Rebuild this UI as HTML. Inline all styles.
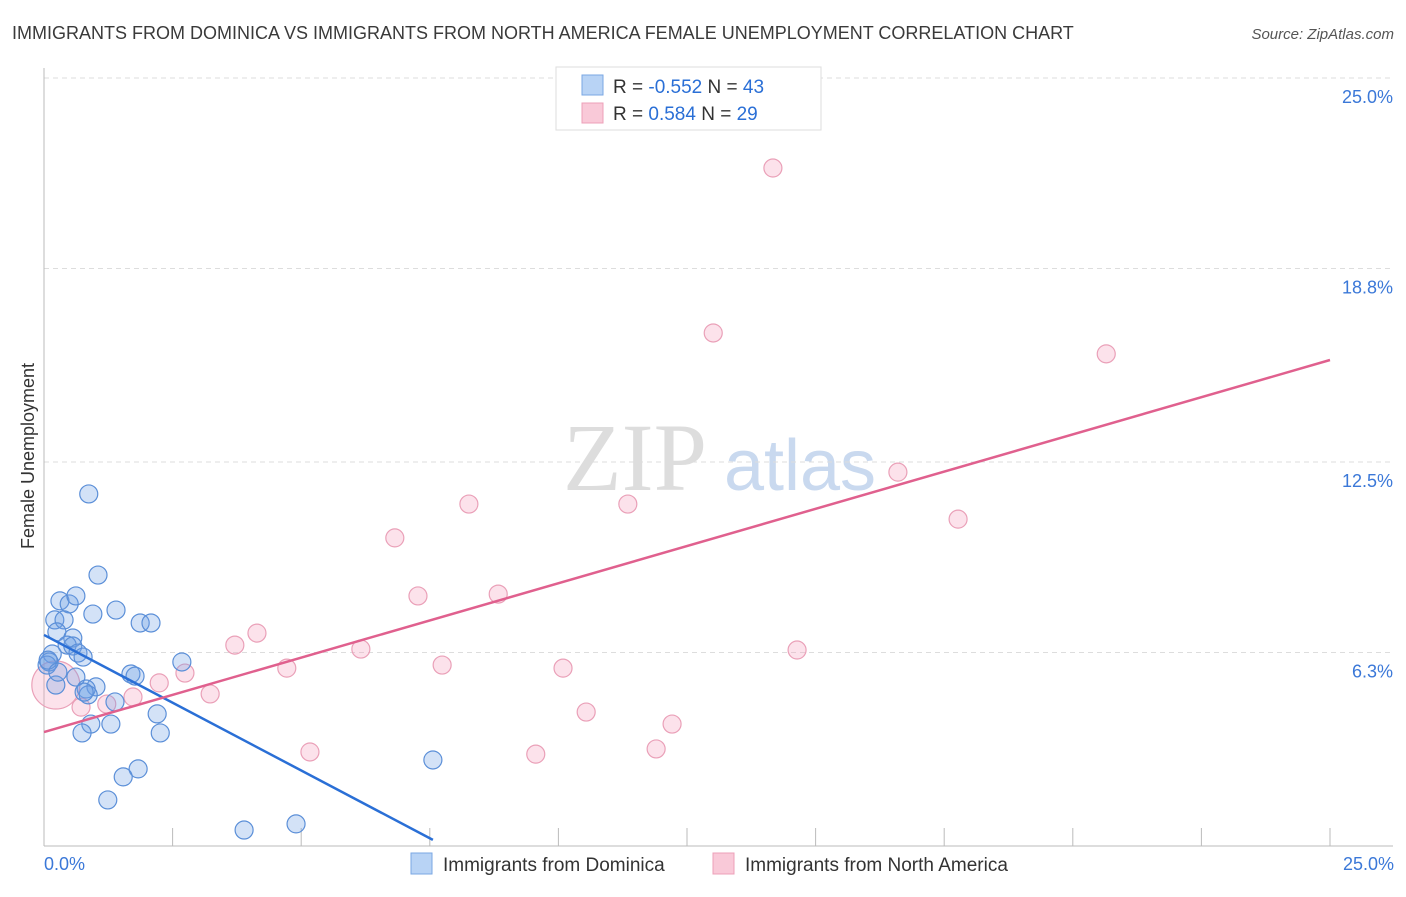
<!DOCTYPE html>
<html><head><meta charset="utf-8"><style>
body{margin:0;background:#fff;font-family:"Liberation Sans",sans-serif;}
</style></head><body>
<svg width="1406" height="892" xmlns="http://www.w3.org/2000/svg">
<text x="12" y="39" font-size="18" fill="#3a3a3a">IMMIGRANTS FROM DOMINICA VS IMMIGRANTS FROM NORTH AMERICA FEMALE UNEMPLOYMENT CORRELATION CHART</text>
<text x="1394" y="39" font-size="15" fill="#555" font-style="italic" text-anchor="end">Source: ZipAtlas.com</text>
<text x="635" y="490" font-size="96" fill="#ddd" font-family="Liberation Serif,serif" text-anchor="middle">ZIP</text>
<text x="800" y="490" font-size="72" fill="#c9d9ef" text-anchor="middle">atlas</text>
<g id="grid"></g>
<g id="marks"></g>
<text transform="translate(34,456) rotate(-90)" font-size="18" fill="#333" text-anchor="middle">Female Unemployment</text>
<text x="44" y="870" font-size="18" fill="#3b78d8">0.0%</text>
<text x="1394" y="870" font-size="18" fill="#3b78d8" text-anchor="end">25.0%</text>
<g>
<rect x="556" y="67" width="265" height="63" fill="#fff" stroke="#ddd"/>
<rect x="582" y="75" width="21" height="20" fill="#b8d3f5" stroke="#7aa7e3"/>
<rect x="582" y="103" width="21" height="20" fill="#f9c9d8" stroke="#eda0b8"/>
<text x="613" y="93" font-size="19" fill="#333">R = <tspan fill="#2a6fd6">-0.552</tspan>   N = <tspan fill="#2a6fd6">43</tspan></text>
<text x="613" y="120" font-size="19" fill="#333">R =  <tspan fill="#2a6fd6"> 0.584</tspan>   N = <tspan fill="#2a6fd6">29</tspan></text>
</g>
<g>
<rect x="411" y="853" width="21" height="21" fill="#b8d3f5" stroke="#7aa7e3"/>
<text x="443" y="871" font-size="19" fill="#333">Immigrants from Dominica</text>
<rect x="713" y="853" width="21" height="21" fill="#f9c9d8" stroke="#eda0b8"/>
<text x="745" y="871" font-size="19" fill="#333">Immigrants from North America</text>
</g>
</svg>
<script>
const yTicks=[25.0,18.8,12.5,6.3];
const yTickLabels=["25.0%","18.8%","12.5%","6.3%"];
const xTicks=[0,2.5,5,7.5,10,12.5,15,17.5,20,22.5,25];
const blueX=[0.87,1.05,0.31,0.49,0.62,1.40,0.95,0.21,0.39,1.87,2.08,0.25,0.56,0.45,0.56,0.66,0.76,0.16,0.10,0.06,1.69,2.68,0.62,0.23,1.01,0.82,0.86,1.38,2.20,0.91,1.30,2.26,0.74,1.83,1.54,1.24,3.89,4.90,7.56,0.08,0.27,0.78,1.77];
const blueY=[11.46,8.82,7.98,7.88,8.14,7.68,7.55,7.36,7.36,7.26,7.26,6.97,6.77,6.54,6.51,6.28,6.15,6.25,5.99,5.89,5.60,5.99,5.50,5.24,5.18,5.11,4.92,4.69,4.30,3.97,3.97,3.68,3.68,2.51,2.25,1.50,0.52,0.72,2.80,6.05,5.66,5.01,5.53];
const pinkX=[14.17,13.01,20.65,16.60,8.26,11.35,17.77,6.82,7.27,8.83,4.14,3.71,6.16,14.64,4.72,7.74,10.09,2.74,2.24,3.23,1.73,1.22,10.54,12.21,5.17,9.56,11.90,0.23,0.72];
const pinkY=[22.07,16.70,16.02,12.17,11.13,11.13,10.64,10.03,8.14,8.20,6.93,6.54,6.41,6.38,5.79,5.89,5.79,5.63,5.31,4.95,4.85,4.62,4.36,3.97,3.06,2.99,3.16,5.24,4.52];
const blueLine=[[0,6.87],[7.56,0.2]];
const pinkLine=[[0,3.71],[25,15.82]];
const NS="http://www.w3.org/2000/svg";
const sx=v=>44+v*51.44, sy=v=>846-v*30.72;
function mk(tag,attrs,parent){const e=document.createElementNS(NS,tag);for(const k in attrs)e.setAttribute(k,attrs[k]);parent.appendChild(e);return e;}
const grid=document.getElementById('grid'), marks=document.getElementById('marks');
yTicks.forEach((t,i)=>{
 const l=mk('line',{x1:44,x2:1393,y1:sy(t),y2:sy(t),stroke:'#ddd','stroke-dasharray':'5,4'},grid);
 
 
 const tx=mk('text',{x:1393,y:sy(t)+25,'font-size':18,fill:'#3b78d8','text-anchor':'end'},grid);
 tx.textContent=yTickLabels[i];
 
 
});
const ax=mk('line',{x1:44,x2:44,y1:68,y2:846,stroke:'#bbb'},grid);


const bx=mk('line',{x1:44,x2:1393,y1:846,y2:846,stroke:'#bbb'},grid);


xTicks.forEach(t=>{
 const l=mk('line',{x1:sx(t),x2:sx(t),y1:828,y2:846,stroke:'#bbb'},grid);
 
 
});
pinkX.forEach((x,i)=>{
 const c=mk('circle',{cx:sx(x),cy:sy(pinkY[i]),r:i==27?24:9,fill:'rgba(244,160,188,0.3)',stroke:'#eaa0b8','stroke-width':1.2},marks);
 
 
});
blueX.forEach((x,i)=>{
 const c=mk('circle',{cx:sx(x),cy:sy(blueY[i]),r:9,fill:'rgba(110,160,230,0.3)',stroke:'#5b8fd8','stroke-width':1.2},marks);
 
 
});
const bl=mk('line',{x1:sx(blueLine[0][0]),y1:sy(blueLine[0][1]),x2:sx(blueLine[1][0]),y2:sy(blueLine[1][1]),stroke:'#2a6fd6','stroke-width':2.5},marks);


const pl=mk('line',{x1:sx(pinkLine[0][0]),y1:sy(pinkLine[0][1]),x2:sx(pinkLine[1][0]),y2:sy(pinkLine[1][1]),stroke:'#e0608e','stroke-width':2.5},marks);


</script>
</body></html>
